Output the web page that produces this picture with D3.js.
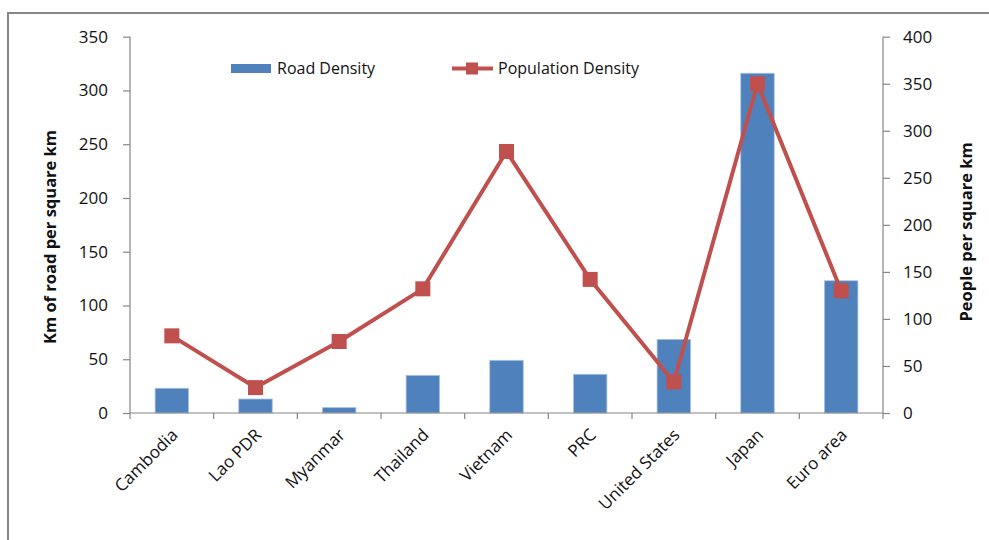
<!DOCTYPE html>
<html lang="en">
<head>
    <meta charset="UTF-8">
    <title>Road and Population Density</title>
    <script src="https://d3js.org/d3.v7.min.js"></script>
    <style>
        body { margin: 0; background: #fff; }
        svg { display: block; font-family: "Open Sans", "Noto Sans", sans-serif; }
        .tick-label { font-size: 17px; fill: #111; }
        .cat-label { font-size: 17px; fill: #111; }
        .axis-title { font-size: 16.5px; font-weight: bold; fill: #111; }
        .legend-text { font-size: 16px; fill: #111; }
        .axis-line { stroke: #868686; stroke-width: 1.2px; fill: none; }
    </style>
</head>
<body>
<svg id="chart" width="989" height="540"></svg>

<script>
    // Data
    const countries = ["Cambodia", "Lao PDR", "Myanmar", "Thailand", "Vietnam", "PRC", "United States", "Japan", "Euro area"];
    const roadDensity = [23, 13, 5, 35, 49, 36, 68.5, 316, 123];
    const popDensity = [82, 27, 76, 132, 278, 142, 33, 350, 130];
    const leftTicks = [0, 50, 100, 150, 200, 250, 300, 350];
    const rightTicks = [0, 50, 100, 150, 200, 250, 300, 350, 400];

    const barColor = "#4F81BD";
    const lineColor = "#C0504D";

    const svg = d3.select("#chart");

    // outer frame of the chart area
    svg.append("rect")
        .attr("x", 8).attr("y", 13)
        .attr("width", 1000).attr("height", 560)
        .attr("fill", "none")
        .attr("stroke", "#878787")
        .attr("stroke-width", 2);

    const plotLeft = 130, plotRight = 883, plotTop = 36.7, plotBottom = 413;

    const x = d3.scaleBand()
        .domain(countries)
        .range([plotLeft, plotRight])
        .paddingInner(0.6)
        .paddingOuter(0.3);

    const yLeft = d3.scaleLinear().domain([0, 350]).range([plotBottom, plotTop]);
    const yRight = d3.scaleLinear().domain([0, 400]).range([plotBottom, plotTop]);

    // Bars
    svg.append("g").selectAll("rect")
        .data(roadDensity)
        .enter().append("rect")
        .attr("x", (d, i) => x(countries[i]))
        .attr("y", d => yLeft(d))
        .attr("width", x.bandwidth())
        .attr("height", d => plotBottom - yLeft(d))
        .attr("fill", barColor)
        .attr("stroke", "#a9c1e0")
        .attr("stroke-width", 0.8);

    // Value axes, Excel-like outward ticks
    const leftAxis = d3.axisLeft(yLeft).tickValues(leftTicks).tickSize(7).tickPadding(15);
    const gl = svg.append("g").attr("transform", `translate(${plotLeft},0)`).call(leftAxis);

    const rightAxis = d3.axisRight(yRight).tickValues(rightTicks).tickSize(7).tickPadding(13);
    const gr = svg.append("g").attr("transform", `translate(${plotRight},0)`).call(rightAxis);

    [gl, gr].forEach(g => {
        g.attr("font-family", null).attr("font-size", null);
        g.select(".domain").attr("class", "axis-line").attr("d", `M0,${plotTop}V${plotBottom}`);
        g.selectAll(".tick line").attr("stroke", "#868686").attr("stroke-width", 1.2);
        g.selectAll(".tick text").attr("class", "tick-label");
    });

    // x axis: baseline with ticks on the category boundaries
    svg.append("line")
        .attr("class", "axis-line")
        .attr("x1", plotLeft).attr("x2", plotRight)
        .attr("y1", plotBottom).attr("y2", plotBottom);

    const step = x.step();
    const bounds = d3.range(countries.length + 1).map(i => plotLeft + i * step);
    svg.append("g").selectAll("line")
        .data(bounds)
        .enter().append("line")
        .attr("x1", d => d).attr("x2", d => d)
        .attr("y1", plotBottom).attr("y2", plotBottom + 6)
        .attr("stroke", "#868686")
        .attr("stroke-width", 1.2);

    // rotated category labels
    svg.append("g").selectAll("text")
        .data(countries)
        .enter().append("text")
        .attr("class", "cat-label")
        .attr("text-anchor", "end")
        .attr("transform", d => `translate(${x(d) + x.bandwidth() / 2 + 7},${plotBottom + 23}) rotate(-45)`)
        .text(d => d);

    // Population line + markers
    const line = d3.line()
        .x((d, i) => x(countries[i]) + x.bandwidth() / 2)
        .y(d => yRight(d));

    svg.append("path")
        .datum(popDensity)
        .attr("d", line)
        .attr("fill", "none")
        .attr("stroke", lineColor)
        .attr("stroke-width", 4)
        .attr("stroke-linejoin", "round");

    const m = 15;
    svg.append("g").selectAll("rect")
        .data(popDensity)
        .enter().append("rect")
        .attr("x", (d, i) => x(countries[i]) + x.bandwidth() / 2 - m / 2)
        .attr("y", d => yRight(d) - m / 2)
        .attr("width", m)
        .attr("height", m)
        .attr("fill", lineColor);

    // Axis titles
    svg.append("text")
        .attr("class", "axis-title")
        .attr("text-anchor", "middle")
        .attr("transform", "translate(56,237) rotate(-90)")
        .text("Km of road per square km");

    svg.append("text")
        .attr("class", "axis-title")
        .attr("text-anchor", "middle")
        .attr("transform", "translate(972,232) rotate(-90)")
        .text("People per square km");

    // Legend
    const legend = svg.append("g");
    legend.append("rect")
        .attr("x", 231).attr("y", 64)
        .attr("width", 40).attr("height", 9)
        .attr("fill", barColor);
    legend.append("text")
        .attr("class", "legend-text")
        .attr("x", 277).attr("y", 74)
        .text("Road Density");

    legend.append("line")
        .attr("x1", 452).attr("x2", 493)
        .attr("y1", 68.5).attr("y2", 68.5)
        .attr("stroke", lineColor)
        .attr("stroke-width", 4);
    legend.append("rect")
        .attr("x", 466).attr("y", 62.5)
        .attr("width", 12).attr("height", 12)
        .attr("fill", lineColor);
    legend.append("text")
        .attr("class", "legend-text")
        .attr("x", 498).attr("y", 74)
        .text("Population Density");
</script>
</body>
</html>
